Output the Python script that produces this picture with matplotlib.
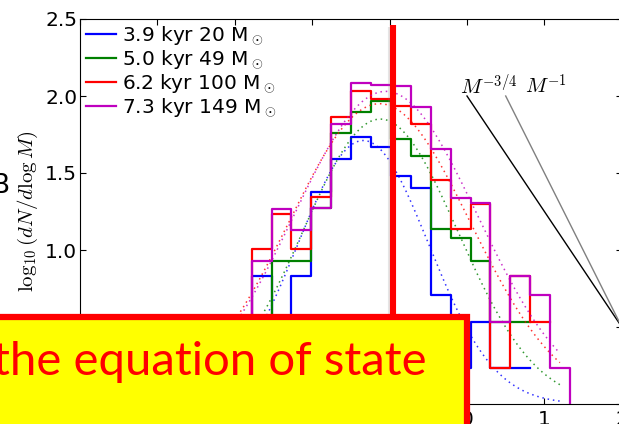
import numpy as np
import matplotlib
matplotlib.use("Agg")
import matplotlib.pyplot as plt
from matplotlib.patches import Rectangle
import matplotlib.patheffects as pe

plt.rcParams['font.family'] = 'DejaVu Sans'
plt.rcParams['mathtext.fontset'] = 'cm'

# bin edges in log10 M
edges = [-3.039, -2.782, -2.525, -2.268, -2.011, -1.753, -1.496, -1.239, -0.982,
         -0.725, -0.468, -0.211, 0.046, 0.303, 0.560, 0.818, 1.075, 1.332]

# log10(dN/dlogM) per bin, nan = empty bin
blue = [0.235, 0.832, 0.533, 0.832, 1.377, 1.588, 1.732, 1.672, 1.483, 1.405,
        0.711, 0.235, 0.533, 0.235, 0.235, np.nan, np.nan]
green = [np.nan, 0.533, 0.929, 0.929, 1.270, 1.758, 1.894, 1.970, 1.718, 1.608,
         1.134, 1.078, 0.927, 0.533, 0.533, np.nan, np.nan]
red = [0.235, 1.005, 1.231, 1.005, 1.345, 1.862, 2.034, 1.981, 1.933, 1.819,
       1.455, 1.134, 1.300, 0.235, 0.834, 0.533, np.nan]
magenta = [0.533, 0.929, 1.269, 1.129, 1.271, 1.819, 2.084, 2.069, 2.062, 1.926,
           1.657, 1.338, 1.306, 0.533, 0.834, 0.709, 0.235]

# lognormal fits: peak height, centre, width
fit_peak = [1.711, 1.85, 1.95, 2.03]
fit_mu = [-1.34, -1.12, -1.13, -1.05]
fit_sigma = [0.845, 1.0, 1.17, 1.18]

labels = [r'3.9 kyr 20 M$_\odot$', r'5.0 kyr 49 M$_\odot$',
          r'6.2 kyr 100 M$_\odot$', r'7.3 kyr 149 M$_\odot$']
colors = ['b', 'g', 'r', 'm']
series = [blue, green, red, magenta]


def stairs_xy(vals, close=False):
    e = np.asarray(edges)
    v = np.asarray(vals, dtype=float)
    xs = np.repeat(e, 2)[1:-1]
    ys = np.repeat(v, 2)
    if close:
        xs = np.append(xs, e[-1])
        ys = np.append(ys, 0.0)
    return xs, ys


fig = plt.figure(figsize=(6.19, 4.24), dpi=100)
ax = fig.add_axes([80 / 619, 20 / 424, 541.8 / 619, 385 / 424])

xfit = np.linspace(-3.3, 1.2, 200)
for vals, c, lab, a, mu, s in zip(series, colors, labels, fit_peak, fit_mu, fit_sigma):
    xs, ys = stairs_xy(vals, close=(c == 'm'))
    ax.plot(xs, ys, color=c, lw=1.6, label=lab)
    ax.plot(xfit, a * np.exp(-(xfit - mu) ** 2 / (2 * s ** 2)),
            linestyle=(0, (1, 2.5)), color=c, lw=1.1, alpha=0.8)

# power-law slopes
ax.plot([0, 2], [2.0, 0.5], color='k', lw=1)
ax.plot([0.5, 2], [2.0, 0.5], color='0.5', lw=1)
ax.text(-0.09, 2.013, r'$M^{-3/4}$', fontsize=15)
ax.text(0.75, 2.013, r'$M^{-1}$', fontsize=15)

ax.plot([-0.96, -0.96], [0, 2.46], color='r', lw=4.4, solid_capstyle='butt', zorder=5,
        path_effects=[pe.SimpleLineShadow(offset=(-1.5, -1), shadow_color='0.5', alpha=0.2),
                      pe.Normal()])

ax.set_xlim(-5, 2)
ax.set_ylim(0, 2.5)
ax.set_xticks(range(-5, 3))
ax.set_yticks([0, 0.5, 1.0, 1.5, 2.0, 2.5])
ax.tick_params(direction='in', top=True, right=True, length=4, width=0.8, labelsize=14.5)
ax.tick_params(axis='y', pad=2)
ax.tick_params(axis='x', pad=4)
for sp in ax.spines.values():
    sp.set_linewidth(0.8)

ax.set_ylabel(r'$\log_{10}(dN/d\log M)$', fontsize=15)
ax.yaxis.set_label_coords(-0.074, 0.5)

ax.legend(loc='upper left', frameon=False, fontsize=14.5, handlelength=1.5,
          handletextpad=0.3, labelspacing=0.08, borderaxespad=0.2, borderpad=0.1)

fig.text(10 / 619, (424 - 193) / 424, 'B', ha='right', va='baseline', fontsize=19)

box = Rectangle((-0.05, -0.1), 466.5 / 619 + 0.05, 0.1 + 107 / 424,
                transform=fig.transFigure, facecolor='#ffff00', edgecolor='#ff0000',
                lw=4.5, zorder=20)
fig.add_artist(box)
fig.text(427 / 619, 49 / 424, 'the equation of state', color='#ff0000',
         fontsize=34, family='Lato', ha='right', va='baseline', zorder=21)

fig.savefig('out.png', dpi=100)
